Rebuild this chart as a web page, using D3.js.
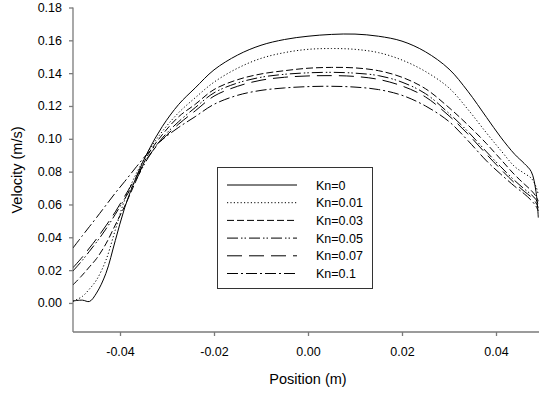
<!DOCTYPE html>
<html>
<head>
<meta charset="utf-8">
<script src="https://cdn.jsdelivr.net/npm/d3@7"></script>
<style>
  html, body { margin: 0; padding: 0; background: #fff; }
  svg { display: block; font-family: Arial, "Liberation Sans", sans-serif; }
</style>
</head>
<body>
<svg id="chart" width="539" height="395"></svg>
<script>
// ---- data ----
const positions = [-0.05, -0.048, -0.0465, -0.045, -0.043, -0.041, -0.039, -0.0365, -0.034, -0.031, -0.0275, -0.024, -0.02, -0.015, -0.01, -0.005, 0, 0.005, 0.01, 0.015, 0.02, 0.025, 0.03, 0.034, 0.038, 0.041, 0.044, 0.046, 0.0475, 0.0485, 0.049];
const kn0   = [0.0012, 0.0017, 0.0009, 0.006, 0.018, 0.038, 0.058, 0.077, 0.0925, 0.1075, 0.121, 0.131, 0.142, 0.151, 0.157, 0.1605, 0.1625, 0.1636, 0.1638, 0.1625, 0.1595, 0.153, 0.1425, 0.129, 0.113, 0.101, 0.0905, 0.085, 0.080, 0.068, 0.052];
const kn001 = [0.001, 0.004, 0.0085, 0.014, 0.026, 0.0445, 0.0628, 0.079, 0.092, 0.1045, 0.116, 0.125, 0.1345, 0.143, 0.149, 0.1525, 0.1545, 0.155, 0.1545, 0.1525, 0.148, 0.141, 0.131, 0.118, 0.1035, 0.093, 0.083, 0.079, 0.076, 0.071, 0.066];
const kn003 = [0.011, 0.017, 0.022, 0.027, 0.036, 0.0475, 0.059, 0.075, 0.0905, 0.1025, 0.1135, 0.121, 0.13, 0.136, 0.1395, 0.1415, 0.143, 0.1435, 0.1432, 0.1415, 0.1375, 0.1305, 0.119, 0.1085, 0.097, 0.0875, 0.078, 0.0725, 0.0685, 0.065, 0.062];
const kn005 = [0.0195, 0.026, 0.0315, 0.037, 0.045, 0.054, 0.0635, 0.0755, 0.0885, 0.1005, 0.1105, 0.119, 0.128, 0.134, 0.1375, 0.1393, 0.1402, 0.1405, 0.14, 0.1385, 0.1345, 0.1275, 0.1155, 0.1045, 0.092, 0.083, 0.0745, 0.0695, 0.066, 0.063, 0.060];
const kn007 = [0.0215, 0.028, 0.0335, 0.039, 0.047, 0.0555, 0.065, 0.077, 0.089, 0.0995, 0.109, 0.117, 0.126, 0.132, 0.1357, 0.1375, 0.1383, 0.1385, 0.138, 0.1362, 0.1322, 0.1255, 0.114, 0.103, 0.0905, 0.0815, 0.073, 0.068, 0.0645, 0.061, 0.058];
const kn01  = [0.0335, 0.041, 0.0465, 0.052, 0.0595, 0.067, 0.074, 0.083, 0.0915, 0.0995, 0.107, 0.1135, 0.121, 0.1265, 0.1295, 0.131, 0.1318, 0.132, 0.1315, 0.13, 0.1265, 0.12, 0.1105, 0.099, 0.0865, 0.0785, 0.071, 0.0665, 0.0625, 0.059, 0.056];
const seriesNames = ["Kn=0", "Kn=0.01", "Kn=0.03", "Kn=0.05", "Kn=0.07", "Kn=0.1"];
const seriesValues = [kn0, kn001, kn003, kn005, kn007, kn01];
const xTicks = [-0.04, -0.02, 0.00, 0.02, 0.04];
const yTicks = [0.00, 0.02, 0.04, 0.06, 0.08, 0.10, 0.12, 0.14, 0.16, 0.18];

// ---- styles ----
const dashes = ["none", "1.2,2.2", "7,3", "11,3,1.5,2,1.5,3", "15,7", "11,3,2,3"];

const svg = d3.select("#chart");
const mLeft = 73, mRight = 543, mTop = 7.5, mBottom = 332;
const x = d3.scaleLinear().domain([-0.05, 0.05]).range([mLeft, mRight]);
const y = d3.scaleLinear().domain([-0.0177, 0.18]).range([mBottom, mTop]);
const fmt = d => d3.format(".2f")(d).replace("\u2212", "-");

svg.append("defs").append("clipPath").attr("id", "clip")
  .append("rect").attr("x", mLeft).attr("y", 0).attr("width", mRight - mLeft).attr("height", mBottom);

const axisColor = "#7a7a7a";

const xAxis = svg.append("g").attr("transform", `translate(0,${mBottom})`)
  .call(d3.axisBottom(x).tickValues(xTicks).tickFormat(fmt).tickSizeOuter(0).tickSize(4).tickPadding(11));
const yAxis = svg.append("g").attr("transform", `translate(${mLeft},0)`)
  .call(d3.axisLeft(y).tickValues(yTicks).tickFormat(fmt).tickSizeOuter(0).tickSize(4).tickPadding(7));
[xAxis, yAxis].forEach(g => {
  g.select(".domain").attr("stroke", axisColor).attr("stroke-width", 1.3);
  g.selectAll(".tick line").attr("stroke", axisColor).attr("stroke-width", 1.3);
  g.selectAll(".tick text").attr("fill", "#000").style("font-size", "12.5px").style("font-family", "Arial, 'Liberation Sans', sans-serif");
});
yAxis.select(".domain").attr("d", `M0,${mTop}V${mBottom}`);
xAxis.select(".domain").attr("d", `M${mLeft},0H${mRight}`);

svg.append("text").attr("x", x(0)).attr("y", 384).attr("text-anchor", "middle")
  .style("font-size", "14.5px").text("Position (m)");
svg.append("text").attr("transform", `translate(22,170) rotate(-90)`).attr("text-anchor", "middle")
  .style("font-size", "14.5px").text("Velocity (m/s)");

const line = d3.line().curve(d3.curveCatmullRom.alpha(0.5))
  .x((d, i) => x(positions[i])).y(d => y(d));

const plot = svg.append("g").attr("clip-path", "url(#clip)");
seriesValues.forEach((vals, k) => {
  plot.append("path").datum(vals).attr("d", line)
    .attr("fill", "none").attr("stroke", "#000").attr("stroke-width", 1)
    .attr("stroke-dasharray", dashes[k] === "none" ? null : dashes[k]);
});

// legend
const lg = svg.append("g");
lg.append("rect").attr("x", 217.5).attr("y", 167.5).attr("width", 155).attr("height", 121)
  .attr("fill", "#fff").attr("stroke", "#333").attr("stroke-width", 1);
seriesNames.forEach((name, k) => {
  const yy = 185 + k * 17.7;
  lg.append("line").attr("x1", 227).attr("x2", 297).attr("y1", yy).attr("y2", yy)
    .attr("stroke", "#000").attr("stroke-width", 1)
    .attr("stroke-dasharray", dashes[k] === "none" ? null : dashes[k]);
  lg.append("text").attr("x", 316).attr("y", yy + 4.5).style("font-size", "12.5px").text(name);
});
</script>
</body>
</html>
